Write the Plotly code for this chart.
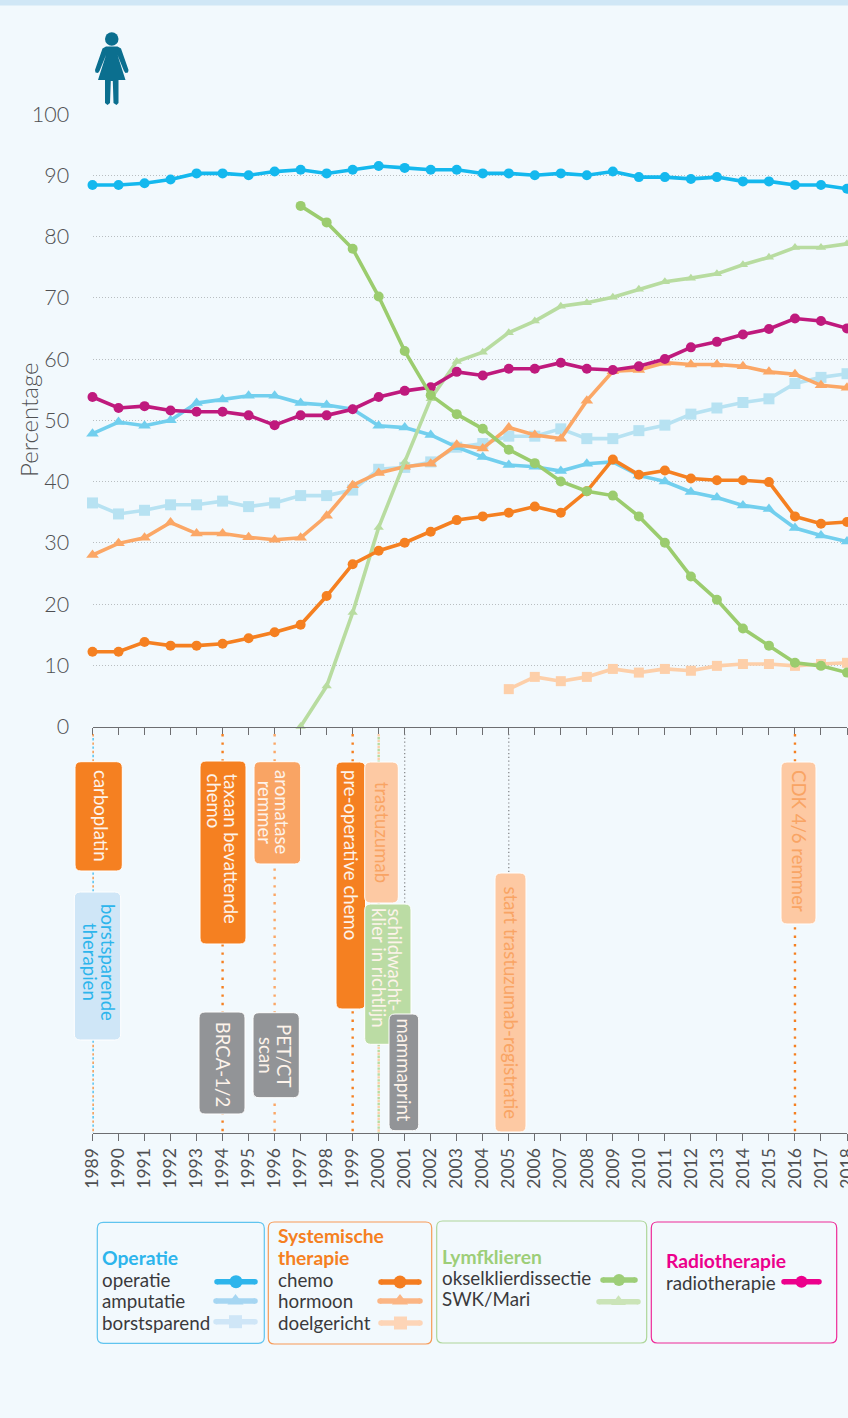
import plotly.graph_objects as go

W, H = 848, 1418
FIG_W = 872  # slightly wider than the window, so the cut-off 2018 tick label is still drawn
FONT = "Lato"

# ---------- data ----------
years = list(range(1989, 2019))
years_doel = list(range(2005, 2019))
years_lymf = list(range(1997, 2019))
y_ticks = [0, 10, 20, 30, 40, 50, 60, 70, 80, 90, 100]

operatie = [88.4, 88.4, 88.7, 89.3, 90.3, 90.3, 90.0, 90.6, 90.9, 90.3, 90.9, 91.5, 91.2, 90.9, 90.9,
            90.3, 90.3, 90.0, 90.3, 90.0, 90.6, 89.7, 89.7, 89.4, 89.7, 89.0, 89.0, 88.4, 88.4, 87.8]
amputatie = [47.8, 49.7, 49.1, 50.0, 52.8, 53.4, 54.0, 54.0, 52.8, 52.5, 51.8, 49.1, 48.8, 47.6, 45.6,
             44.0, 42.7, 42.4, 41.7, 42.9, 43.2, 41.0, 40.0, 38.3, 37.4, 36.1, 35.5, 32.4, 31.2, 30.2]
borstsparend = [36.5, 34.7, 35.3, 36.2, 36.2, 36.8, 35.9, 36.5, 37.7, 37.7, 38.6, 42.0, 42.3, 43.2, 45.6,
                46.2, 47.4, 47.4, 48.6, 47.0, 47.0, 48.3, 49.2, 51.0, 52.0, 52.9, 53.5, 56.0, 57.0, 57.6]
chemo = [12.2, 12.2, 13.8, 13.2, 13.2, 13.5, 14.4, 15.4, 16.6, 21.3, 26.5, 28.7, 30.0, 31.8, 33.7,
         34.3, 34.9, 35.9, 34.9, 38.4, 43.6, 41.1, 41.8, 40.5, 40.2, 40.2, 39.9, 34.3, 33.1, 33.4]
hormoon = [28.0, 29.9, 30.8, 33.3, 31.5, 31.5, 30.9, 30.5, 30.8, 34.4, 39.4, 41.4, 42.4, 42.9, 46.0,
           45.4, 48.8, 47.6, 47.0, 53.2, 58.0, 58.2, 59.4, 59.1, 59.1, 58.8, 57.9, 57.5, 55.7, 55.3]
doelgericht = [6.1, 8.1, 7.4, 8.1, 9.4, 8.8, 9.4, 9.1, 9.9, 10.2, 10.2, 9.9, 10.2, 10.4]
okselklier = [85.0, 82.3, 78.0, 70.2, 61.3, 54.1, 51.0, 48.6, 45.2, 43.0, 40.0, 38.4, 37.7, 34.3, 30.0,
              24.5, 20.7, 16.0, 13.2, 10.4, 9.9, 8.8]
swk_mari = [0.0, 6.6, 18.6, 32.5, 43.2, 53.5, 59.6, 61.1, 64.3, 66.2, 68.6, 69.2, 70.1, 71.4, 72.6,
            73.2, 73.9, 75.4, 76.6, 78.2, 78.2, 78.8]
radiotherapie = [53.8, 52.0, 52.3, 51.6, 51.4, 51.4, 50.8, 49.2, 50.8, 50.8, 51.8, 53.8, 54.8, 55.4, 57.9,
                 57.3, 58.4, 58.4, 59.4, 58.4, 58.2, 58.8, 60.0, 61.9, 62.8, 64.0, 64.9, 66.6, 66.2, 65.0]

# ---------- colours ----------
BG = "#f2f9fd"
C_OP, C_AMP, C_BORST = "#14b8ee", "#72cfee", "#b7e2f2"
C_CHEMO, C_HORM, C_DOEL = "#f58021", "#fba766", "#fdcfa9"
C_OKS, C_SWK = "#9bcc6e", "#b8dca0"
C_RAD = "#bf1a7d"
C_GRAY = "#929497"
TXT = "#4f5052"


def fx(px):
    return px / FIG_W


def fy(py):
    return 1 - py / H


X0, X1 = 92.5, 847.0
Y_TOP, Y_ZERO = 114.0, 726.5
Y_BOT = 1133.0

fig = go.Figure()

series = [
    (years, borstsparend, "borstsparend", C_BORST, "square", 11),
    (years, amputatie, "amputatie", C_AMP, "triangle-up", 11),
    (years_doel, doelgericht, "doelgericht", C_DOEL, "square", 10),
    (years, hormoon, "hormoon", C_HORM, "triangle-up", 11),
    (years_lymf, swk_mari, "SWK/Mari", C_SWK, "triangle-up", 9),
    (years, radiotherapie, "radiotherapie", C_RAD, "circle", 10),
    (years, chemo, "chemo", C_CHEMO, "circle", 10),
    (years_lymf, okselklier, "okselklierdissectie", C_OKS, "circle", 10),
    (years, operatie, "operatie", C_OP, "circle", 10),
]
for xs, ys, name, col, sym, size in series:
    fig.add_trace(go.Scatter(x=xs, y=ys, name=name, mode="lines+markers", cliponaxis=False,
                             line=dict(color=col, width=3.6),
                             marker=dict(color=col, symbol=sym, size=size, line=dict(width=0))))

fig.add_trace(go.Scatter(x=years, y=[0] * len(years), xaxis="x2", yaxis="y2", mode="markers",
                         marker=dict(opacity=0), hoverinfo="skip"))

# ---------- legend keys (page-sized axis) ----------
keys = [
    (217, 255, 1281.7, "#2db5ec", "circle", 13),
    (216, 255, 1301, "#a6d6f2", "triangle-up", 14),
    (216, 255, 1321.7, "#cfe6f7", "square", 13),
    (381, 419, 1282, "#f47d20", "circle", 13),
    (380, 420, 1301, "#fbb584", "triangle-up", 14),
    (381, 420, 1323, "#fdd5b7", "square", 13),
    (603, 635, 1280, "#9dce78", "circle", 12),
    (599, 638, 1301.7, "#cbe4b8", "triangle-up", 13),
    (784, 819, 1281.7, "#ec008c", "circle", 12),
]
for a, b, yy, col, sym, size in keys:
    fig.add_trace(go.Scatter(x=[a, b], y=[yy, yy], xaxis="x3", yaxis="y3", mode="lines+markers",
                             line=dict(color=col, width=5.5), marker=dict(color=col, size=5.5, line=dict(width=0)),
                             hoverinfo="skip", cliponaxis=False))
    fig.add_trace(go.Scatter(x=[(a + b) / 2], y=[yy], xaxis="x3", yaxis="y3", mode="markers",
                             marker=dict(color=col, symbol=sym, size=size, line=dict(width=0)),
                             hoverinfo="skip", cliponaxis=False))

shapes = []
annots = []


def rrect_path(x0, y0, x1, y1, r):
    X = fx
    Y = fy
    return (f"M{X(x0 + r)},{Y(y0)} L{X(x1 - r)},{Y(y0)} Q{X(x1)},{Y(y0)} {X(x1)},{Y(y0 + r)} "
            f"L{X(x1)},{Y(y1 - r)} Q{X(x1)},{Y(y1)} {X(x1 - r)},{Y(y1)} "
            f"L{X(x0 + r)},{Y(y1)} Q{X(x0)},{Y(y1)} {X(x0)},{Y(y1 - r)} "
            f"L{X(x0)},{Y(y0 + r)} Q{X(x0)},{Y(y0)} {X(x0 + r)},{Y(y0)} Z")


def rbox(x0, y0, x1, y1, fill, line, lw=1.2, r=6):
    shapes.append(dict(type="path", path=rrect_path(x0, y0, x1, y1, r), xref="paper", yref="paper",
                       fillcolor=fill, line=dict(color=line, width=lw), layer="above"))


def label(x, y, text, color, size=17, angle=0, xanchor="left", yanchor="middle", bold=False, weight=None):
    annots.append(dict(xref="paper", yref="paper", x=fx(x), y=fy(y), text=text, showarrow=False,
                       textangle=angle, xanchor=xanchor, yanchor=yanchor,
                       font=dict(family=FONT, size=size, color=color,
                                 weight=weight if weight else (700 if bold else 400)),
                       borderpad=0, borderwidth=0))


# top band
shapes.append(dict(type="rect", xref="paper", yref="paper", x0=0, x1=1, y0=fy(5.5), y1=1,
                   fillcolor="#d0e7f6", line=dict(width=0), layer="below"))

# ---------- milestone dotted lines ----------
# year, colour, width, dash, first pixel row
mile_lines = [
    (1989, "#2db5ec", 2.4, "2.4px,6px", 738), (1989, "#f58021", 2.4, "2.4px,6px", 734),
    (1994, "#f58021", 2.4, "2.4px,6px", 734), (1996, "#fba766", 2.4, "2.4px,6px", 734),
    (1999, "#f58021", 2.4, "2.4px,6px", 734), (2000, "#b8dca0", 2.4, "2.4px,3.5px", 737),
    (2000, "#fdcfa9", 2.4, "2.4px,3.5px", 734), (2001, "#808285", 1.2, "1.2px,2.6px", 734),
    (2005, "#808285", 1.2, "1.2px,2.6px", 734), (2016, "#f58021", 2.4, "2.4px,6px", 734),
]
for yr, col, w, dash, start in mile_lines:
    shapes.append(dict(type="line", xref="x2", yref="paper", x0=yr, x1=yr, y0=fy(start), y1=fy(Y_BOT),
                       line=dict(color=col, width=w, dash=dash), layer="above"))

# ---------- milestone boxes ----------
W_TXT = "#fdf3ea"
TS = 18.6
# x0, y0, x1, y1, fill, text colour, then text lines (text, centre-x, y, y-anchor)
boxes = [
    (75, 761.7, 122.3, 871, C_CHEMO, W_TXT, [("carboplatin", 101, 770, "top")]),
    (74.3, 892, 120.7, 1040, "#cfe6f7", "#2db5ec",
     [("borstsparende", 108, 962, "middle"), ("therapien", 90, 962, "middle")]),
    (200, 761, 246, 944, C_CHEMO, W_TXT,
     [("taxaan bevattende", 231, 773, "top"), ("chemo", 214, 773, "top")]),
    (254, 761.7, 300.7, 864, "#f9a464", W_TXT,
     [("aromatase", 282.7, 812.7, "middle"), ("remmer", 265, 812.7, "middle")]),
    (336, 762, 365.5, 1009, C_CHEMO, W_TXT, [("pre-operative chemo", 351, 770, "top")]),
    (364.7, 762, 398.3, 903, "#fdc9a3", "#f9a464", [("trastuzumab", 382.7, 782, "top")]),
    (364.7, 904, 411, 1044.3, "#bbdca4", W_TXT,
     [("schildwacht-", 395, 908, "top"), ("klier in richtlijn", 379, 908, "top")]),
    (389, 1014, 418.7, 1130.7, C_GRAY, W_TXT, [("mammaprint", 404, 1018, "top")]),
    (199, 1012, 245, 1114, C_GRAY, W_TXT, [("BRCA-1/2", 223.7, 1022, "top")]),
    (253, 1012.7, 299.3, 1097.7, C_GRAY, W_TXT,
     [("PET/CT", 284, 1055, "middle"), ("scan", 266, 1055, "middle")]),
    (495, 873, 526, 1132, "#fdc9a3", "#f9a464", [("start trastuzumab-registratie", 511, 887, "top")]),
    (781, 762, 816, 924, "#fdc9a3", "#f9a464", [("CDK 4/6 remmer", 799, 770, "top")]),
]
for x0, y0, x1, y1, fill, tc, lines in boxes:
    rbox(x0, y0, x1, y1, fill, "#ffffff", lw=1, r=6)
    for text, tx, ty, ya in lines:
        label(tx, ty, text, tc, size=TS, angle=90, xanchor="center", yanchor=ya)

# ---------- legend boxes ----------
rbox(97.3, 1222.3, 264.3, 1343.3, "rgba(0,0,0,0)", "#5fc4ef")
rbox(268.3, 1222, 431.7, 1344, "rgba(0,0,0,0)", "#f79a56")
rbox(436.7, 1221, 646.7, 1343, "rgba(0,0,0,0)", "#aed69a")
rbox(651.3, 1222, 836.7, 1343, "rgba(0,0,0,0)", "#ee2a98")

LT = "#3a3a3c"
LS, LB = 18.8, 19.3
label(102, 1257.5, "Operatie", "#2db5ec", LB, bold=True)
for yy, t in [(1279.5, "operatie"), (1300.5, "amputatie"), (1322, "borstsparend")]:
    label(102, yy, t, LT, LS)
label(278, 1235.5, "Systemische", "#f58021", LB, bold=True)
label(278, 1257.5, "therapie", "#f58021", LB, bold=True)
for yy, t in [(1279.5, "chemo"), (1300.5, "hormoon"), (1322, "doelgericht")]:
    label(278, yy, t, LT, LS)
label(442, 1256.2, "Lymfklieren", "#9dce78", LB, bold=True)
label(442, 1277, "okselklierdissectie", LT, LS)
label(442, 1298, "SWK/Mari", LT, LS)
label(665.7, 1260.5, "Radiotherapie", "#ec008c", LB, bold=True)
label(665.7, 1282, "radiotherapie", LT, LS)

# y-axis title
label(28, 420, "Percentage", TXT, 24, angle=-90, xanchor="center", weight=300)

# ---------- female icon ----------
ICON = "#0b6f8f"
shapes.append(dict(type="circle", xref="paper", yref="paper", x0=fx(105), x1=fx(118.5),
                   y0=fy(32.2), y1=fy(45.7), fillcolor=ICON, line=dict(width=0), layer="above"))
body = [(106, 46.5), (117.5, 46.5), (121, 48.5), (128.5, 70), (128, 72.5), (125.5, 73), (124, 71),
        (117.5, 55), (125.5, 80), (118.5, 80), (118.5, 103), (116.5, 105), (113.5, 103), (112.8, 81),
        (110.8, 81), (110, 103), (107.5, 105), (105, 103), (105, 80), (98, 80), (106, 55), (99.5, 71),
        (98, 73), (95.5, 72.5), (95, 70), (102.5, 48.5)]
path = "M" + " L".join(f"{fx(a)},{fy(b)}" for a, b in body) + " Z"
shapes.append(dict(type="path", path=path, xref="paper", yref="paper", fillcolor=ICON,
                   line=dict(width=0), layer="above"))

tick_kw = dict(tickmode="array", tickvals=years, range=[1989, 2018], automargin=False,
               domain=[fx(X0), fx(X1)], showgrid=False, zeroline=False, showline=True,
               linecolor="#6d6e71", linewidth=1.2, ticks="outside", ticklen=7, tickcolor="#6d6e71",
               tickwidth=1.2)

fig.update_layout(
    width=FIG_W, height=H,
    margin=dict(l=0, r=0, t=0, b=0, pad=0, autoexpand=False),
    paper_bgcolor=BG, plot_bgcolor="rgba(0,0,0,0)",
    showlegend=False,
    hovermode=False,
    xaxis=dict(anchor="y", showticklabels=False, **tick_kw),
    yaxis=dict(domain=[fy(Y_ZERO), fy(Y_TOP)], range=[0, 100], tickmode="array", tickvals=y_ticks,
               showline=False, ticks="outside", ticklen=18, tickcolor="rgba(0,0,0,0)", zeroline=False,
               showgrid=True, griddash="1px,2px", automargin=False,
               gridcolor="#b9bec1", gridwidth=1, anchor="x",
               tickfont=dict(family=FONT, size=21.5, color=TXT, weight=300)),
    xaxis2=dict(anchor="y2", showticklabels=True, tickangle=-90, ticktext=[str(y) for y in years],
                tickfont=dict(family=FONT, size=17.5, color=TXT, weight=400), **tick_kw),
    yaxis2=dict(domain=[fy(Y_BOT), fy(760)], range=[0, 1], visible=False, anchor="x2", automargin=False),
    xaxis3=dict(domain=[0, 1], range=[0, FIG_W], visible=False, anchor="y3", automargin=False),
    yaxis3=dict(domain=[0, 1], range=[H, 0], visible=False, anchor="x3", automargin=False),
    shapes=shapes,
    annotations=annots,
)

fig.write_html("out.html", config={"displayModeBar": False},
               post_script="document.body.style.margin='0';document.documentElement.style.overflow='hidden';document.body.style.overflow='hidden';document.body.style.background='%s';" % BG)
